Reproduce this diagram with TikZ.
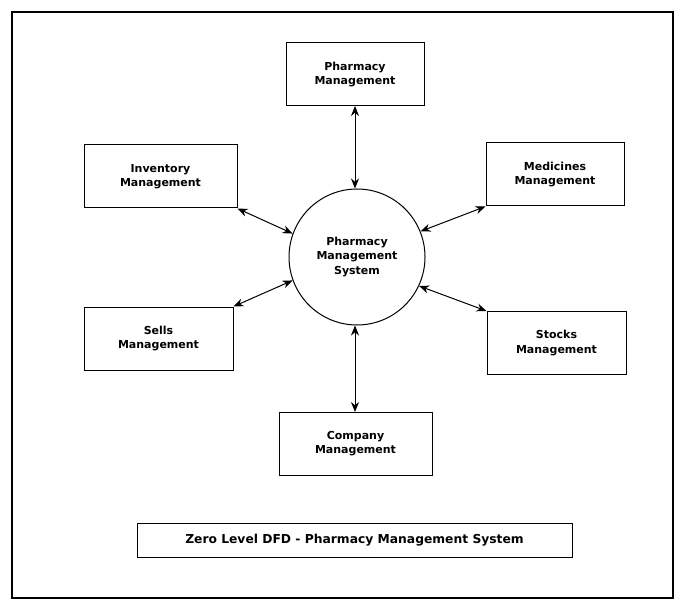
\documentclass[tikz,border=0pt]{standalone}
\usepackage{fontspec}
\setmainfont{DejaVu Sans}
\usetikzlibrary{arrows.meta}
\begin{document}
\begin{tikzpicture}[x=1pt,y=-1pt,
  lbl/.style={font=\fontsize{11}{14.5}\selectfont\bfseries, align=center},
  ent/.style={draw, line width=1pt, minimum width=#1, minimum height=63, lbl, inner sep=0pt},
  flow/.style={{Stealth[length=10pt,width=8pt]}-{Stealth[length=10pt,width=8pt]}, line width=1pt}]
\useasboundingbox (0,0) rectangle (682,612);
\draw[line width=1.1pt] (12,12) rectangle (673,598);
\node[ent=138] (pm) at (355,74.5) {Pharmacy\\Management};
\node[ent=153] (im) at (160.5,176.5) {Inventory\\Management};
\node[ent=138] (mm) at (555,174.5) {Medicines\\Management};
\node[ent=149] (sm) at (158.5,338.5) {Sells\\Management};
\node[ent=139] (st) at (556.5,343) {Stocks\\Management};
\node[ent=153] (cm) at (355.5,443.5) {Company\\Management};
\node[draw, circle, line width=1pt, minimum size=136, lbl, inner sep=0pt] (sys) at (357,257) {Pharmacy\\Management\\System};
\node[draw, line width=1pt, minimum width=435, minimum height=34, inner sep=0pt, font=\fontsize{12.3}{14}\selectfont\bfseries] (title) at (354.5,540) {Zero Level DFD - Pharmacy Management System};
\coordinate (pmb) at (355,106);
\coordinate (cmt) at (355,412);
\draw[flow] (pmb) -- (sys.north -| pmb);
\draw[flow] (im.south east) -- (sys.160);
\draw[flow] (mm.south west) -- (sys.22);
\draw[flow] (sm.north east) -- (sys.200);
\draw[flow] (st.north west) -- (sys.-25);
\draw[flow] (sys.south -| cmt) -- (cmt);
\end{tikzpicture}
\end{document}
